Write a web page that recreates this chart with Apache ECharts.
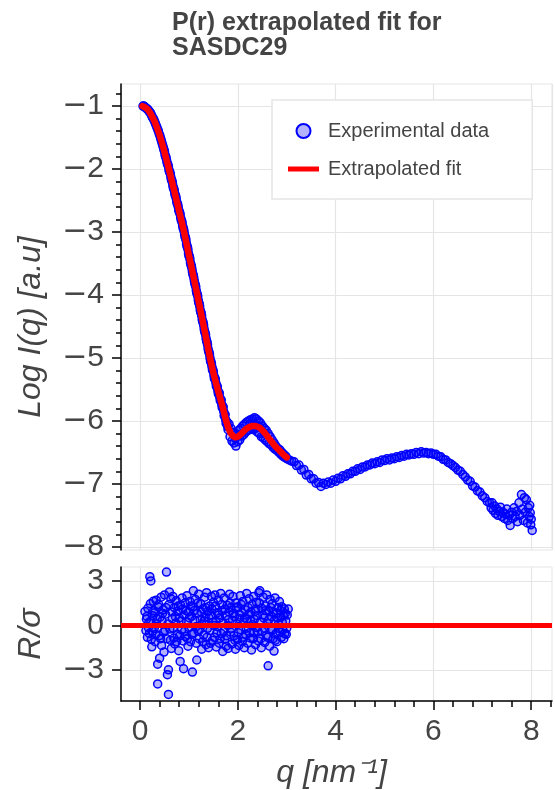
<!DOCTYPE html>
<html>
<head>
<meta charset="utf-8">
<script src="https://cdn.jsdelivr.net/npm/echarts@6/dist/echarts.min.js"></script>
<style>
  html, body { margin: 0; padding: 0; background: #fff; }
  #chart { width: 555px; height: 790px; }
</style>
</head>
<body>
<div id="chart"></div>
<script>
// experimental points [q, log I(q)]
const expData = [
  [0.06,-1.00],[0.09,-1.01],[0.12,-1.03],[0.15,-1.05],[0.18,-1.08],[0.21,-1.11],[0.24,-1.16],[0.27,-1.20],
  [0.30,-1.25],[0.33,-1.31],[0.36,-1.37],[0.39,-1.44],[0.42,-1.51],[0.45,-1.59],[0.48,-1.67],
  [0.075,-1.00],[0.105,-1.02],[0.135,-1.04],[0.165,-1.06],[0.195,-1.09],[0.225,-1.13],[0.255,-1.18],
  [0.285,-1.22],[0.315,-1.28],[0.345,-1.34],[0.375,-1.40],[0.405,-1.47],[0.435,-1.55],[0.465,-1.63],[0.49,-1.70],
  [0.50,-1.72],[0.52,-1.80],[0.54,-1.85],[0.56,-1.92],[0.58,-1.96],[0.60,-2.04],[0.62,-2.08],[0.64,-2.17],
  [0.66,-2.21],[0.68,-2.30],[0.70,-2.34],[0.72,-2.42],[0.74,-2.47],[0.76,-2.55],[0.78,-2.60],[0.80,-2.68],
  [0.82,-2.72],[0.84,-2.81],[0.86,-2.85],[0.88,-2.94],[0.90,-2.99],[0.92,-3.08],[0.94,-3.13],[0.96,-3.23],
  [0.98,-3.28],[1.00,-3.38],[1.02,-3.43],[1.04,-3.52],[1.06,-3.58],[1.08,-3.67],[1.10,-3.73],[1.12,-3.82],
  [1.14,-3.87],[1.16,-3.97],[1.18,-4.02],[1.20,-4.12],[1.22,-4.18],[1.24,-4.27],[1.26,-4.33],[1.28,-4.42],
  [1.30,-4.48],[1.32,-4.58],[1.34,-4.63],[1.36,-4.73],[1.38,-4.79],[1.40,-4.89],[1.42,-4.94],[1.44,-5.05],
  [1.46,-5.09],[1.48,-5.19],[1.50,-5.22],[1.52,-5.33],[1.54,-5.34],[1.56,-5.45],[1.58,-5.46],[1.60,-5.57],
  [1.62,-5.56],[1.64,-5.68],[1.66,-5.67],[1.68,-5.79],[1.70,-5.78],[1.72,-5.92],[1.74,-5.90],[1.76,-6.04],
  [1.78,-6.02],[1.80,-6.14],
  [0.51,-1.77],[0.53,-1.81],[0.55,-1.89],[0.57,-1.93],[0.59,-2.01],[0.61,-2.05],[0.63,-2.13],[0.65,-2.18],
  [0.67,-2.26],[0.69,-2.31],[0.71,-2.39],[0.73,-2.43],[0.75,-2.52],[0.77,-2.56],[0.79,-2.65],[0.81,-2.69],
  [0.83,-2.77],[0.85,-2.82],[0.87,-2.90],[0.89,-2.95],[0.91,-3.04],[0.93,-3.09],[0.95,-3.19],[0.97,-3.24],
  [0.99,-3.34],[1.01,-3.39],[1.03,-3.49],[1.05,-3.54],[1.07,-3.63],[1.09,-3.69],[1.11,-3.78],[1.13,-3.84],
  [1.15,-3.93],[1.17,-3.99],[1.19,-4.08],[1.21,-4.14],[1.23,-4.24],[1.25,-4.29],[1.27,-4.39],[1.29,-4.44],
  [1.31,-4.54],[1.33,-4.60],[1.35,-4.69],[1.37,-4.75],[1.39,-4.85],[1.41,-4.91],[1.43,-5.00],[1.45,-5.06],
  [1.47,-5.14],[1.49,-5.19],[1.51,-5.28],[1.53,-5.32],[1.55,-5.40],[1.57,-5.44],[1.59,-5.52],[1.61,-5.55],
  [1.63,-5.63],[1.65,-5.66],[1.67,-5.74],[1.69,-5.77],[1.71,-5.85],[1.73,-5.90],[1.75,-5.98],[1.77,-6.02],
  [1.79,-6.09],
  [1.82,-6.05],[1.84,-6.25],[1.86,-6.12],[1.88,-6.32],[1.90,-6.18],[1.92,-6.35],[1.94,-6.20],[1.95,-6.28],
  [1.96,-6.40],[1.98,-6.22],[2.00,-6.33],[2.02,-6.15],[2.04,-6.30],[2.05,-6.21],[2.06,-6.12],[2.08,-6.24],
  [2.10,-6.08],[2.12,-6.22],[2.14,-6.05],[2.16,-6.18],[2.18,-6.02],[2.20,-6.15],[2.22,-6.00],[2.24,-6.14],
  [2.25,-6.06],[2.26,-5.98],[2.28,-6.12],[2.30,-5.97],[2.32,-6.14],[2.34,-5.95],[2.35,-6.05],[2.36,-6.12],
  [2.38,-5.97],[2.40,-6.18],[2.42,-6.00],[2.44,-6.20],[2.45,-6.10],[2.46,-6.03],[2.48,-6.25],[2.50,-6.08],
  [2.52,-6.27],[2.54,-6.12],[2.55,-6.20],[2.56,-6.30],[2.58,-6.15],[2.60,-6.33],[2.62,-6.20],[2.64,-6.36],
  [2.66,-6.25],[2.68,-6.38],[2.70,-6.30],[2.72,-6.42],[2.74,-6.35],[2.76,-6.45],[2.78,-6.40],[2.80,-6.47],
  [2.82,-6.44],[2.84,-6.50],[2.86,-6.46],[2.88,-6.53],[2.90,-6.50],[2.92,-6.56],[2.94,-6.53],[2.96,-6.58],
  [2.98,-6.56],[3.00,-6.60],
  [3.05,-6.62],[3.10,-6.64],[3.15,-6.65],[3.20,-6.71],[3.25,-6.70],[3.30,-6.78],[3.35,-6.77],[3.40,-6.86],
  [3.45,-6.85],[3.50,-6.92],[3.55,-6.92],[3.60,-6.99],[3.65,-6.98],[3.70,-7.04],[3.75,-6.99],[3.80,-7.01],
  [3.85,-6.97],[3.90,-6.99],[3.95,-6.94],[4.00,-6.96],[4.05,-6.91],[4.10,-6.92],[4.15,-6.87],[4.20,-6.88],
  [4.25,-6.84],[4.30,-6.84],[4.35,-6.80],[4.40,-6.80],[4.45,-6.76],[4.50,-6.77],[4.55,-6.73],[4.60,-6.73],
  [4.65,-6.70],[4.70,-6.70],[4.75,-6.67],[4.80,-6.68],[4.85,-6.65],[4.90,-6.66],[4.95,-6.62],[5.00,-6.63],
  [5.05,-6.60],[5.10,-6.62],[5.15,-6.59],[5.20,-6.60],[5.25,-6.57],[5.30,-6.58],[5.35,-6.55],[5.40,-6.56],
  [5.45,-6.53],[5.50,-6.54],[5.55,-6.52],[5.60,-6.53],[5.65,-6.50],[5.70,-6.52],[5.75,-6.49],[5.80,-6.51],
  [5.85,-6.50],[5.90,-6.52],[5.95,-6.51],[6.00,-6.53],[6.05,-6.53],[6.10,-6.56],[6.15,-6.57],[6.20,-6.61],
  [6.25,-6.62],[6.30,-6.66],[6.35,-6.68],[6.40,-6.71],[6.45,-6.74],[6.50,-6.78],[6.55,-6.80],[6.60,-6.85],
  [6.65,-6.89],[6.70,-6.94],[6.75,-6.96],[6.80,-7.03],[6.85,-7.05],[6.90,-7.11],[6.95,-7.13],[7.00,-7.19],
  [7.05,-7.22],[7.10,-7.28],[7.15,-7.30],
  [7.18,-7.38],[7.20,-7.30],[7.22,-7.42],[7.25,-7.35],[7.27,-7.47],[7.30,-7.40],[7.32,-7.50],[7.35,-7.44],
  [7.37,-7.37],[7.40,-7.52],[7.42,-7.45],[7.45,-7.55],[7.47,-7.48],[7.50,-7.40],[7.52,-7.58],[7.55,-7.50],
  [7.57,-7.66],[7.60,-7.45],[7.62,-7.55],[7.65,-7.38],[7.67,-7.52],[7.70,-7.44],[7.72,-7.60],[7.75,-7.30],
  [7.77,-7.50],[7.80,-7.17],[7.82,-7.40],[7.84,-7.58],[7.86,-7.22],[7.88,-7.45],[7.90,-7.25],[7.92,-7.62],
  [7.94,-7.38],[7.96,-7.52],[7.97,-7.34],[7.98,-7.46],[7.99,-7.65],[8.00,-7.56],[8.02,-7.74]
];

// extrapolated fit [q, log I(q)]
const fitData = [
  [0.05,-1.00],[0.10,-1.02],[0.15,-1.05],[0.20,-1.10],[0.25,-1.17],[0.30,-1.25],[0.35,-1.35],[0.40,-1.46],
  [0.45,-1.59],[0.50,-1.73],[0.55,-1.88],[0.60,-2.03],[0.65,-2.19],[0.70,-2.35],[0.75,-2.51],[0.80,-2.67],
  [0.85,-2.83],[0.90,-3.00],[0.95,-3.18],[1.00,-3.37],[1.05,-3.55],[1.10,-3.74],[1.15,-3.92],[1.20,-4.11],
  [1.25,-4.30],[1.30,-4.49],[1.35,-4.68],[1.40,-4.88],[1.45,-5.07],[1.50,-5.24],[1.55,-5.39],[1.60,-5.53],
  [1.65,-5.67],[1.70,-5.81],[1.75,-5.97],[1.80,-6.10],[1.85,-6.19],[1.90,-6.24],[1.95,-6.26],[2.00,-6.25],
  [2.05,-6.22],[2.10,-6.18],[2.15,-6.14],[2.20,-6.11],[2.25,-6.09],[2.30,-6.08],[2.35,-6.08],[2.40,-6.09],
  [2.45,-6.11],[2.50,-6.15],[2.55,-6.19],[2.60,-6.24],[2.65,-6.29],[2.70,-6.34],[2.75,-6.39],[2.80,-6.43],
  [2.85,-6.47],[2.90,-6.51],[2.95,-6.55],[3.00,-6.58]
];

// residuals [q, R/sigma]
const resData = [
  [0.10,0.93],[0.12,-0.35],[0.13,0.42],[0.15,-0.80],[0.16,1.15],[0.18,0.20],[0.19,-0.55],
  [0.20,3.28],[0.21,1.45],[0.22,2.99],[0.23,-0.95],[0.24,-1.44],[0.26,0.65],[0.27,1.62],[0.29,-0.20],
  [0.30,0.85],[0.31,-1.10],[0.33,1.70],[0.34,0.10],[0.36,-2.61],[0.36,-3.94],[0.37,1.25],[0.39,-0.70],
  [0.40,-2.21],[0.41,0.55],[0.43,1.90],[0.44,-1.35],[0.45,0.30],[0.47,1.05],[0.48,-0.45],[0.49,-1.80],
  [0.50,2.05],[0.52,0.75],[0.54,3.59],[0.55,-0.90],[0.56,-3.32],[0.58,-2.99],[0.58,-4.65],[0.59,1.40],
  [0.60,2.25],[0.61,-0.25],[0.63,1.80],[0.64,-1.55],[0.66,0.45],[0.67,1.95],[0.69,-0.85],
  [0.70,1.20],[0.71,-1.25],[0.73,0.15],[0.74,1.65],[0.76,-0.60],[0.77,0.95],[0.79,-1.70],
  [0.80,0.50],[0.82,-2.43],[0.83,1.35],[0.85,-0.30],[0.86,1.85],[0.88,-1.05],[0.89,-2.92],
  [0.90,0.70],[0.92,1.50],[0.93,-0.75],[0.95,0.25],[0.96,2.00],[0.98,-1.40],[0.99,0.90],
  [1.00,-0.15],[1.02,1.60],[1.03,-1.10],[1.05,0.60],[1.07,-3.14],[1.08,1.25],[1.09,2.33],
  [1.10,-0.50],[1.12,0.35],[1.13,1.75],[1.15,-1.20],[1.16,-2.33],[1.17,0.80],[1.19,-0.40],
  [1.20,2.10],[1.21,-0.90],[1.23,0.40],[1.24,1.45],[1.26,-1.60],[1.27,0.05],[1.29,1.10],
  [1.30,-0.65],[1.32,1.90],[1.33,0.55],[1.35,-1.30],[1.36,2.20],[1.38,-0.20],[1.39,0.95],
  [1.40,-1.50],[1.42,1.30],[1.43,-0.35],[1.45,0.70],[1.46,1.95],[1.48,-1.00],[1.49,0.20],
  [1.50,1.55],[1.52,-0.80],[1.53,2.05],[1.55,0.30],[1.56,-1.45],[1.58,0.85],[1.59,-0.10],
  [1.60,1.70],[1.62,-1.20],[1.63,0.50],[1.65,2.15],[1.66,-0.55],[1.68,1.00],[1.69,-1.75],
  [1.70,0.15],[1.72,1.85],[1.73,-0.95],[1.75,0.65],[1.76,-1.40],[1.78,1.35],[1.79,0.00],
  [1.80,-1.55],[1.82,0.90],[1.83,2.10],[1.85,-0.45],[1.86,1.20],[1.88,-1.25],[1.89,0.35],
  [1.90,1.95],[1.92,-0.70],[1.93,0.60],[1.95,-1.60],[1.96,1.50],[1.98,0.10],[1.99,-0.95],
  [2.00,1.25],[2.02,-1.35],[2.03,0.45],[2.05,2.00],[2.06,-0.30],[2.08,0.85],[2.09,-1.10],
  [2.10,1.60],[2.12,0.20],[2.13,-1.50],[2.15,1.05],[2.16,-0.60],[2.18,2.15],[2.19,0.40],
  [2.20,-1.20],[2.22,0.75],[2.23,1.80],[2.25,-0.85],[2.26,0.30],[2.28,-1.65],[2.29,1.40],
  [2.30,0.05],[2.32,1.95],[2.33,-0.50],[2.35,0.95],[2.36,-1.30],[2.38,1.55],[2.39,-0.15],
  [2.40,0.65],[2.42,-1.05],[2.43,2.20],[2.45,2.33],[2.46,0.25],[2.48,-1.50],[2.49,1.15],
  [2.50,-0.40],[2.52,1.90],[2.53,0.50],[2.55,-1.15],[2.56,1.30],[2.58,-0.70],[2.59,2.05],
  [2.60,0.15],[2.62,-2.72],[2.63,1.00],[2.65,-1.40],[2.66,1.75],[2.68,-0.25],[2.69,0.60],
  [2.70,1.45],[2.72,-0.90],[2.74,-1.73],[2.75,0.35],[2.76,1.85],[2.78,-0.55],[2.79,0.80],
  [2.80,-1.10],[2.82,1.20],[2.83,0.10],[2.85,1.60],[2.86,-0.45],[2.88,0.55],[2.89,-0.80],
  [2.90,1.25],[2.92,-0.30],[2.93,0.65],[2.95,1.10],[2.96,-0.55],[2.98,0.30],[3.00,-0.20],[3.01,0.70],[3.03,1.10],
  // second pass of the dense band around zero
  [0.14,0.60],[0.17,-0.15],[0.22,0.30],[0.25,-0.40],[0.28,1.00],[0.32,-0.60],[0.35,0.45],[0.38,1.40],
  [0.42,-0.90],[0.46,0.80],[0.51,-0.35],[0.53,1.20],[0.57,0.10],[0.62,-1.00],[0.65,0.90],[0.68,-0.20],
  [0.72,0.60],[0.75,-1.10],[0.78,1.30],[0.81,-0.70],[0.84,0.30],[0.87,1.10],[0.91,-0.40],[0.94,1.00],
  [0.97,-0.90],[1.01,0.50],[1.04,1.30],[1.06,-0.60],[1.11,1.00],[1.14,-0.10],[1.18,1.50],[1.22,-0.30],
  [1.25,0.90],[1.28,-1.10],[1.31,0.30],[1.34,1.20],[1.37,-0.80],[1.41,0.50],[1.44,-1.20],[1.47,1.10],
  [1.51,0.00],[1.54,1.30],[1.57,-0.50],[1.61,0.70],[1.64,-0.90],[1.67,1.40],[1.71,-0.40],[1.74,1.10],
  [1.77,-0.70],[1.81,0.40],[1.84,1.50],[1.87,-0.20],[1.91,0.80],[1.94,-1.00],[1.97,1.20],[2.01,-0.50],
  [2.04,0.70],[2.07,1.40],[2.11,-0.80],[2.14,0.50],[2.17,-0.20],[2.21,1.20],[2.24,-0.50],[2.27,0.90],
  [2.31,-0.90],[2.34,0.40],[2.37,1.10],[2.41,-0.40],[2.44,1.50],[2.47,-0.90],[2.51,0.70],[2.54,-0.20],
  [2.57,1.00],[2.61,-0.80],[2.64,0.40],[2.67,1.20],[2.71,-0.30],[2.73,0.90],[2.77,-1.00],[2.81,0.50],
  [2.84,-0.20],[2.87,1.00],[2.91,0.20],[2.94,-0.90],[2.97,0.80],[2.99,-0.60]
];

const xTicks = [0, 2, 4, 6, 8];
const yTicksTop = [-8, -7, -6, -5, -4, -3, -2, -1];
const yTicksRes = [-3, 0, 3];

const FONT = 'Liberation Sans, Arial, Helvetica, sans-serif';
const GRID_C = '#e5e5e5';
const TXT_C = '#444444';

// minus sign drawn from DejaVu Sans, like the reference's fallback glyph
const minus = v => (v < 0 ? '{m|\u2212}' + Math.abs(v) : String(v));
const minusRich = { m: { fontFamily: 'DejaVu Sans', fontSize: 30, color: TXT_C } };

const chart = echarts.init(document.getElementById('chart'), null, { renderer: 'canvas' });

const blackLine = { color: '#000', width: 1.5 };
const commonY = {
  type: 'value',
  axisLine: { show: true, onZero: false, lineStyle: blackLine },
  axisTick: { show: true, length: 9, lineStyle: blackLine },
  axisLabel: { color: TXT_C, fontSize: 30, fontFamily: FONT, margin: 17, rich: minusRich },
  splitLine: { show: true, lineStyle: { color: GRID_C, width: 1.2 } },
  nameLocation: 'middle',
  nameGap: 74,
  nameTextStyle: { color: TXT_C, fontSize: 32, fontStyle: 'italic', fontFamily: FONT }
};

const option = {
  animation: false,
  backgroundColor: '#fff',
  title: {
    text: 'P(r) extrapolated fit for\nSASDC29',
    left: 172,
    top: 11,
    padding: 0,
    textStyle: { color: TXT_C, fontSize: 25, fontWeight: 'bold', fontFamily: FONT, lineHeight: 25 }
  },
  legend: {
    orient: 'vertical',
    left: 272,
    top: 100,
    padding: [21, 43, 20, 16],
    itemGap: 18,
    itemWidth: 31,
    itemHeight: 14,
    borderColor: GRID_C,
    borderWidth: 1.5,
    backgroundColor: '#fff',
    textStyle: { color: TXT_C, fontSize: 20, fontFamily: FONT, padding: [0, 0, 0, 4] },
    data: [
      { name: 'Experimental data', icon: 'circle' },
      { name: 'Extrapolated fit', icon: 'path://M0,0L31,0L31,5L0,5Z', itemStyle: { color: '#ff0000', borderWidth: 0 } }
    ]
  },
  grid: [
    { left: 121, top: 84, width: 431, height: 466, show: true, borderColor: GRID_C, borderWidth: 1 },
    { left: 121, top: 567, width: 431, height: 136, show: true, borderColor: GRID_C, borderWidth: 1 }
  ],
  xAxis: [
    {
      type: 'value', gridIndex: 0, min: -0.39, max: 8.425, splitNumber: 4,
      axisLine: { show: false }, axisTick: { show: false }, axisLabel: { show: false },
      splitLine: { show: true, lineStyle: { color: GRID_C, width: 1.2 } }
    },
    {
      type: 'value', gridIndex: 1, min: -0.39, max: 8.425, splitNumber: 4,
      axisLine: { show: true, onZero: false, lineStyle: blackLine },
      axisTick: { show: true, length: 9, customValues: xTicks, lineStyle: blackLine },
      minorTick: { show: true, splitNumber: 5, length: 6, lineStyle: blackLine },
      axisLabel: {
        color: TXT_C, fontSize: 30, fontFamily: FONT, margin: 16, customValues: xTicks,
        formatter: v => (Math.abs(v % 2) < 1e-9 ? String(v) : '')
      },
      splitLine: { show: true, lineStyle: { color: GRID_C, width: 1.2 } },
      name: 'q [nm\u207B\u00B9]',
      nameLocation: 'middle',
      nameGap: 56,
      nameTextStyle: { color: TXT_C, fontSize: 32, fontStyle: 'italic', fontFamily: FONT, padding: [0, 10, 0, 0] }
    }
  ],
  yAxis: [
    Object.assign({}, commonY, {
      gridIndex: 0, min: -8.05, max: -0.65, splitNumber: 7,
      name: 'Log I(q) [a.u]',
      nameTextStyle: Object.assign({}, commonY.nameTextStyle, { padding: [0, 20, 0, 0] }),
      axisTick: Object.assign({}, commonY.axisTick, { customValues: yTicksTop }),
      minorTick: { show: true, splitNumber: 5, length: 5, lineStyle: blackLine },
      axisLabel: Object.assign({}, commonY.axisLabel, {
        customValues: yTicksTop,
        formatter: v => (Number.isInteger(v) ? minus(v) : '')
      })
    }),
    Object.assign({}, commonY, {
      gridIndex: 1, min: -5.09, max: 3.93, splitNumber: 3,
      name: 'R/\u03C3',
      axisTick: Object.assign({}, commonY.axisTick, { customValues: yTicksRes }),
      axisLabel: Object.assign({}, commonY.axisLabel, {
        customValues: yTicksRes,
        formatter: v => (Math.abs(v % 3) < 1e-9 ? minus(v) : '')
      })
    })
  ],
  series: [
    {
      name: 'Experimental data',
      type: 'scatter',
      xAxisIndex: 0, yAxisIndex: 0,
      data: expData,
      symbol: 'circle',
      symbolSize: 8,
      itemStyle: { color: 'rgba(0,0,255,0.3)', borderColor: '#0000ff', borderWidth: 1.5, opacity: 1 },
      z: 2
    },
    {
      name: 'Extrapolated fit',
      type: 'line',
      xAxisIndex: 0, yAxisIndex: 0,
      data: fitData,
      showSymbol: false,
      symbol: 'none',
      symbolSize: 0,
      lineStyle: { color: '#ff0000', width: 6.5, join: 'round', cap: 'round' },
      itemStyle: { color: '#ff0000' },
      emphasis: { disabled: true },
      zlevel: 1,
      z: 3
    },
    {
      name: 'Residuals',
      type: 'scatter',
      xAxisIndex: 1, yAxisIndex: 1,
      data: resData,
      symbol: 'circle',
      symbolSize: 8,
      itemStyle: { color: 'rgba(0,0,255,0.3)', borderColor: '#0000ff', borderWidth: 1.5, opacity: 1 },
      z: 2
    },
    {
      name: 'Zero',
      type: 'line',
      xAxisIndex: 1, yAxisIndex: 1,
      data: [],
      zlevel: 1,
      z: 4,
      markLine: {
        silent: true,
        symbol: 'none',
        label: { show: false },
        lineStyle: { color: '#ff0000', width: 5, type: 'solid' },
        data: [{ yAxis: 0 }]
      }
    }
  ]
};

chart.setOption(option);
</script>
</body>
</html>
